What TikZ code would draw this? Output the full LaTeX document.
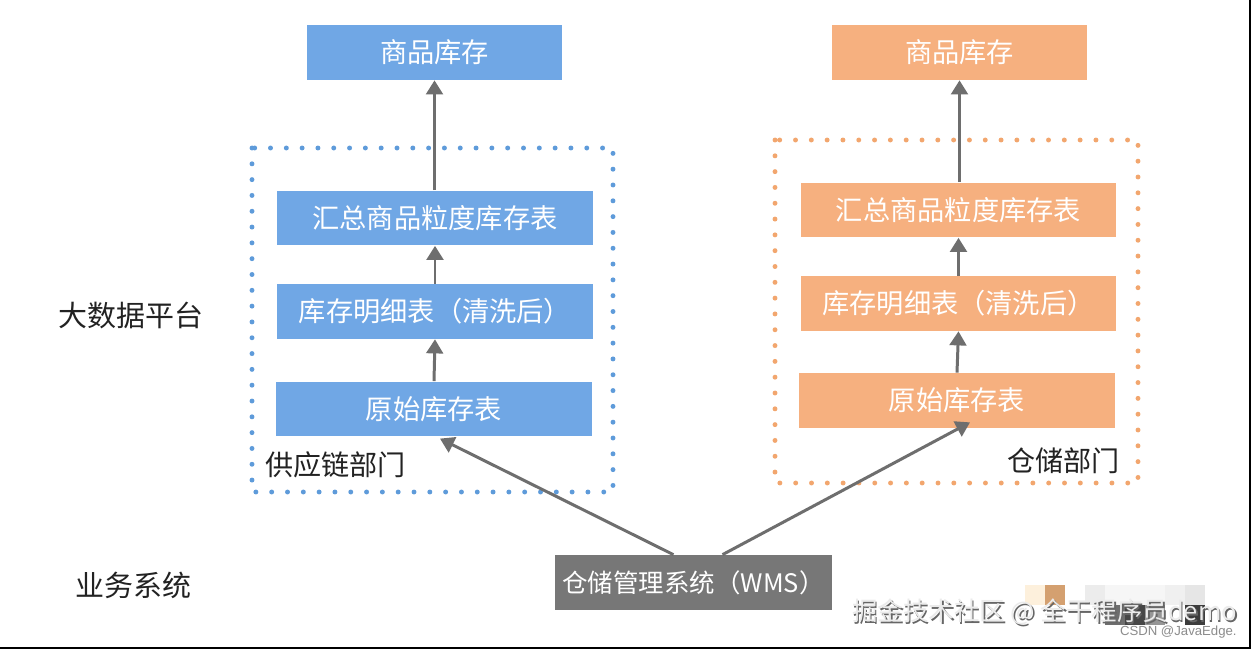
\documentclass[tikz,border=0pt]{standalone}
\usepackage{fontspec}
\newfontfamily\cjk{Noto Sans CJK SC}
\newfontfamily\latinsans{Liberation Sans}
\usetikzlibrary{arrows.meta,calc}
\definecolor{bluebox}{HTML}{70A7E5}
\definecolor{orangebox}{HTML}{F6B07F}
\definecolor{bluedot}{HTML}{5E9BDA}
\definecolor{orangedot}{HTML}{F2A66E}
\definecolor{wmsgray}{HTML}{777777}
\definecolor{arrowgray}{HTML}{6E6E6E}
\definecolor{labelink}{HTML}{222222}
\definecolor{mzA}{HTML}{FDF0DC}
\definecolor{mzB}{RGB}{212,160,112}
\definecolor{mzC}{RGB}{236,236,236}
\definecolor{mzD}{RGB}{246,246,246}
\definecolor{mzE}{RGB}{240,240,240}
\definecolor{mzF}{RGB}{230,230,230}
\definecolor{mzG}{RGB}{110,110,110}
\definecolor{mzH}{RGB}{70,70,70}
\definecolor{mzI}{RGB}{150,150,150}
\definecolor{mzJ}{RGB}{60,60,60}
\tikzset{
  box/.style={rectangle, inner sep=0pt, text=white, font=\cjk\fontsize{15.5}{18}\selectfont},
  smallbox/.style={box, minimum width=5.1cm, minimum height=1.1cm},
  widebox/.style={box, minimum width=6.32cm, minimum height=1.1cm},
  bluefill/.style={fill=bluebox},
  orangefill/.style={fill=orangebox},
  dotframe/.style={line width=2.8pt, dash pattern=on 0pt off 9pt, line cap=round},
  flow/.style={draw=arrowgray, line width=1.7pt, -{Triangle[width=9.5pt,length=8pt]}},
  sidelabel/.style={text=labelink, font=\cjk\fontsize{16.5}{20}\selectfont, inner sep=0pt},
  deptlabel/.style={text=labelink, font=\cjk\fontsize{16}{20}\selectfont, inner sep=0pt},
  wmark/.style={inner sep=0pt},
}
\begin{document}
\begin{tikzpicture}[x=0.02cm,y=-0.02cm]
\useasboundingbox[fill=white] (0,0) rectangle (1251,649);

% dotted frames
\draw[dotframe, draw=bluedot] (252,148) rectangle (613,492);
\draw[dotframe, draw=orangedot] (775,140) rectangle (1138,483);

% blue column
\node[smallbox, bluefill] (btop) at (434.5,52.5) {商品库存};
\node[widebox, bluefill] (bsum) at (435,218) {汇总商品粒度库存表};
\node[widebox, bluefill] (bdet) at (435,311.5) {库存明细表（清洗后）};
\node[widebox, bluefill] (braw) at (434,409) {原始库存表};

% orange column
\node[smallbox, orangefill] (otop) at (959.5,52.5) {商品库存};
\node[widebox, orangefill] (osum) at (958.5,210) {汇总商品粒度库存表};
\node[widebox, orangefill] (odet) at (958.5,303.5) {库存明细表（清洗后）};
\node[widebox, orangefill] (oraw) at (957,400.5) {原始库存表};

% business system
\node[box, fill=wmsgray, minimum width=5.54cm, minimum height=1.1cm, font=\cjk\fontsize{14.5}{18}\selectfont] (wms) at (693.5,582.5) {仓储管理系统（WMS）};

% labels
\node[sidelabel, anchor=west] (lbig) at (58,315) {大数据平台};
\node[sidelabel, anchor=west] (lbiz) at (75,585) {业务系统};
\node[deptlabel, anchor=west] (lsup) at (265,465) {供应链部门};
\node[deptlabel, anchor=east] (lwh) at (1120,461) {仓储部门};

% arrows
\draw[flow] (bsum.north -| btop.south) -- (btop.south);
\draw[flow] (bdet.north) -- (bsum.south);
\draw[flow] (braw.north) -- (bdet.south);
\draw[flow] (osum.north -| otop.south) -- (otop.south);
\draw[flow] (odet.north) -- (osum.south);
\draw[flow] (oraw.north) -- (odet.south);
\draw[flow] ([xshift=-11.4pt]wms.north) -- ([xshift=3.4pt,yshift=-1pt]braw.south);
\draw[flow] ([xshift=16.5pt]wms.north) -- ([xshift=7.4pt,yshift=3.4pt]oraw.south);

% watermark mosaic
\fill[mzA] (1025,585) rectangle (1045,605);
\fill[mzB] (1045,585) rectangle (1065,605);
\fill[mzC] (1085,585) rectangle (1105,605);
\fill[mzD] (1105,585) rectangle (1165,605);
\fill[mzE] (1165,585) rectangle (1185,605);
\fill[mzF] (1185,585) rectangle (1205,605);
\fill[mzG] (1105,605) rectangle (1125,625);
\fill[mzH] (1125,605) rectangle (1145,625);
\fill[mzI] (1145,605) rectangle (1165,625);
\fill[mzJ] (1185,605) rectangle (1205,625);

% watermark text
\node[wmark, anchor=west, text=black!60, font=\cjk\fontsize{14.5}{18}\selectfont] (wm1s) at (853.5,613.5) {掘金技术社区 @ 全干程序员demo};
\node[wmark, anchor=west, text=white!92!black, font=\cjk\fontsize{14.5}{18}\selectfont] (wm1) at (852,612) {掘金技术社区 @ 全干程序员demo};
\node[wmark, anchor=east, text=black!45, font=\latinsans\fontsize{7.5}{9}\selectfont] (wm2) at (1237,632) {CSDN @JavaEdge.};

% screenshot edge
\draw[line width=0.8pt, black] (1250,0) -- (1250,648) -- (0,648);
\end{tikzpicture}
\end{document}
